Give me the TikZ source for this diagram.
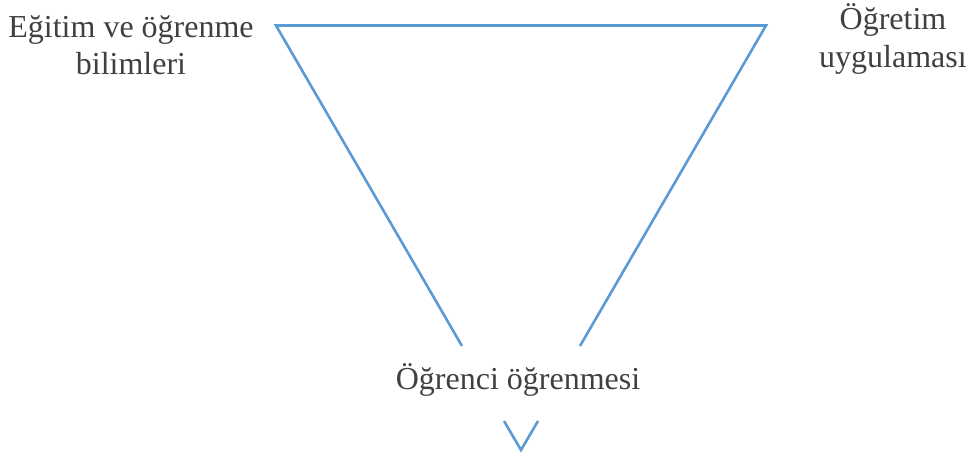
\documentclass[tikz,border=0pt]{standalone}
\usepackage{fontspec}
\newfontfamily\tms{Liberation Serif}
\definecolor{lineblue}{HTML}{5B9BD5}
\definecolor{txtgray}{HTML}{404040}
\begin{document}
\begin{tikzpicture}[x=1pt,y=-1pt,
  lbl/.style={text=txtgray,align=center,font=\tms\fontsize{32}{37.5}\selectfont,inner sep=0pt},
  edge/.style={draw=lineblue,line width=2.6pt,line join=miter}]
\useasboundingbox (0,0) rectangle (973,452);
\coordinate (tl) at (276,25.5);
\coordinate (tr) at (766,25.5);
\coordinate (le) at (462,346);
\coordinate (re) at (580,346);
\coordinate (vl) at (504,421);
\coordinate (vb) at (521,450);
\coordinate (vr) at (538,421);
\node[lbl] (edu) at (131,45) {Eğitim ve öğrenme\\bilimleri};
\node[lbl] (prac) at (893,39) {Öğretim\\uygulaması};
\node[lbl] (stud) at (518,380) {Öğrenci öğrenmesi};
\draw[edge] (le) -- (tl) -- (tr) -- (re);
\draw[edge] (vl) -- (vb) -- (vr);
\end{tikzpicture}
\end{document}
